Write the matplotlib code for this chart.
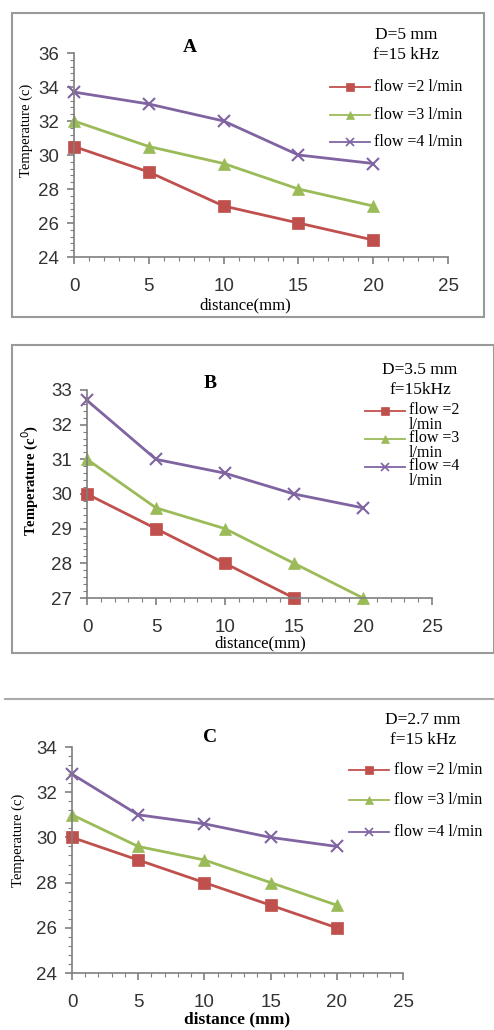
import matplotlib
matplotlib.use("Agg")
import matplotlib.pyplot as plt
from matplotlib.patches import Rectangle
from matplotlib.lines import Line2D
from matplotlib.ticker import MultipleLocator

W, H = 494, 1030

distance = [0, 5, 10, 15, 20]

# panel A: D=5 mm
a_flow2 = [30.5, 29.0, 27.0, 26.0, 25.0]
a_flow3 = [32.0, 30.5, 29.5, 28.0, 27.0]
a_flow4 = [33.7, 33.0, 32.0, 30.0, 29.5]

# panel B: D=3.5 mm (flow 2 stops at 15 mm)
b_flow2 = [30.0, 29.0, 28.0, 27.0]
b_flow3 = [31.0, 29.6, 29.0, 28.0, 27.0]
b_flow4 = [32.7, 31.0, 30.6, 30.0, 29.6]

# panel C: D=2.7 mm
c_flow2 = [30.0, 29.0, 28.0, 27.0, 26.0]
c_flow3 = [31.0, 29.6, 29.0, 28.0, 27.0]
c_flow4 = [32.8, 31.0, 30.6, 30.0, 29.6]

labels_long = ["flow =2 l/min", "flow =3 l/min", "flow =4 l/min"]
labels_wrap = ["flow =2\nl/min", "flow =3\nl/min", "flow =4\nl/min"]

RED, GREEN, PURPLE = "#C0504D", "#9BBB59", "#8064A2"
STYLES = [(RED, "s", 9), (GREEN, "^", 8), (PURPLE, "x", 9)]
SERIF = "Liberation Serif"
SANS = "Liberation Sans"

fig = plt.figure(figsize=(W / 100, H / 100), dpi=100)


def px_axes(x0, x1, top, bottom):
    return fig.add_axes([x0 / W, 1 - bottom / H, (x1 - x0) / W, (bottom - top) / H])


def ftext(x, y, s, **kw):
    kw.setdefault("family", SERIF)
    kw.setdefault("ha", "center")
    kw.setdefault("va", "center")
    fig.text(x / W, 1 - y / H, s, **kw)


def draw_panel(ax, ys_list, ylim, ystep, yminor):
    for (color, marker, ms), ys in zip(STYLES, ys_list):
        ax.plot(distance[:len(ys)], ys, color=color, lw=2, marker=marker,
                ms=ms, mew=1.5 if marker == "x" else 0.5, clip_on=False)
    ax.set_xlim(0, 25)
    ax.set_ylim(*ylim)
    ax.xaxis.set_major_locator(MultipleLocator(5))
    ax.xaxis.set_minor_locator(MultipleLocator(1))
    ax.yaxis.set_major_locator(MultipleLocator(ystep))
    ax.yaxis.set_minor_locator(MultipleLocator(yminor))
    for s in ("top", "right"):
        ax.spines[s].set_visible(False)
    for s in ("left", "bottom"):
        ax.spines[s].set_color("#7f7f7f")
        ax.spines[s].set_linewidth(1.2)
    ax.tick_params(which="both", direction="out", color="#7f7f7f")
    ax.tick_params(which="major", length=5, width=1.2, labelsize=13.5,
                   labelcolor="#333333")
    ax.tick_params(which="minor", length=3, width=0.8)
    ax.tick_params(axis="x", which="major", pad=10)
    ax.tick_params(axis="y", which="major", pad=6)
    for lab in ax.get_xticklabels() + ax.get_yticklabels():
        lab.set_family(SANS)
    ax.patch.set_alpha(0)


def legend_rows(x_line, x_text, ys, labels, size=11.5, va="center"):
    for (color, marker, ms), y, lab in zip(STYLES, ys, labels):
        fy = 1 - y / H
        fig.add_artist(Line2D([x_line / W, (x_line + 40) / W], [fy, fy],
                              color=color, lw=1.3))
        fig.add_artist(Line2D([(x_line + 20) / W], [fy], color=color, lw=0,
                              marker=marker, ms=6,
                              mew=1.2 if marker == "x" else 0.5))
        yt = y - 9 if va == "top" else y
        ftext(x_text, yt, lab, ha="left", va=va, fontsize=size, linespacing=0.9)


# frames
fig.add_artist(Rectangle((12 / W, 1 - 317 / H), 472 / W, 304 / H, fill=False,
                         ec="#999999", lw=1.5))
fig.add_artist(Rectangle((12 / W, 1 - 653 / H), 482 / W, 308 / H, fill=False,
                         ec="#999999", lw=1.5))
fig.add_artist(Line2D([5 / W, 1], [1 - 699 / H] * 2, color="#aaaaaa", lw=1.5))

# ---- A ----
axA = px_axes(74, 448, 53, 257)
draw_panel(axA, [a_flow2, a_flow3, a_flow4], (24, 36), 2, 0.4)
ftext(190, 48, "A", fontsize=14, weight="bold")
ftext(406, 35, "D=5 mm", fontsize=12.5)
ftext(406, 55, "f=15 kHz", fontsize=12.5)
legend_rows(330, 374, [87, 115, 142], labels_long)
ftext(26, 130, "Temperature (c)", fontsize=10.5, rotation=90)
ftext(245, 305, "distance(mm)", fontsize=12)

# ---- B ----
axB = px_axes(87, 432, 390, 598)
draw_panel(axB, [b_flow2, b_flow3, b_flow4], (27, 33), 1, 0.2)
ftext(210, 383, "B", fontsize=14, weight="bold")
ftext(420, 370, "D=3.5 mm", fontsize=12.5)
ftext(420, 390, "f=15kHz", fontsize=12.5)
legend_rows(365, 409, [411, 439, 467], labels_wrap, va="top")
ftext(30, 480, "Temperature (c$^0$)", fontsize=10.5, rotation=90, weight="bold")
ftext(260, 643, "distance(mm)", fontsize=12)

# ---- C ----
axC = px_axes(72, 403, 747, 973)
draw_panel(axC, [c_flow2, c_flow3, c_flow4], (24, 34), 2, 0.4)
ftext(210, 738, "C", fontsize=14, weight="bold")
ftext(423, 720, "D=2.7 mm", fontsize=12.5)
ftext(423, 740, "f=15 kHz", fontsize=12.5)
legend_rows(349, 394, [770, 800, 832], labels_long)
ftext(18, 840, "Temperature (c)", fontsize=10.5, rotation=90)
ftext(237, 1019, "distance (mm)", fontsize=12.5, weight="bold")

fig.savefig("out.png", dpi=100)
